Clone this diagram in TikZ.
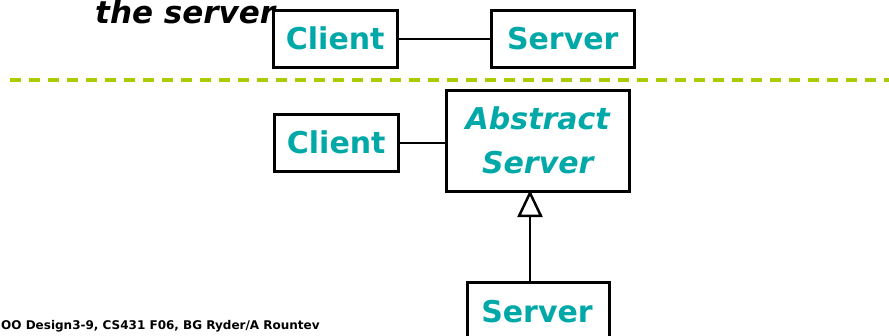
\documentclass[tikz,border=0pt]{standalone}
\usepackage{fontspec}
\setmainfont{DejaVu Sans}
\usetikzlibrary{arrows.meta}
\definecolor{teal1}{RGB}{0,168,168}
\definecolor{lime1}{RGB}{170,204,0}
\tikzset{
  cls/.style={draw=black, line width=2.5pt, fill=white, text=teal1, font=\fontsize{30}{34}\selectfont\bfseries, inner sep=0pt, anchor=north west},
  assoc/.style={draw=black, line width=1.6pt},
  inherit/.style={draw=black, line width=2.5pt, -{Triangle[open, width=25pt, length=27pt, line width=2.5pt]}},
}
\begin{document}
\begin{tikzpicture}[x=1pt,y=-1pt]
\useasboundingbox (0,0) rectangle (889,335);
% title fragment
\node[anchor=base west, inner sep=0pt, font=\fontsize{31}{32}\selectfont\bfseries\itshape] (title) at (95,23) {the server};
% top diagram
\node[cls, minimum width=124pt, minimum height=57pt] (c1) at (272,9) {Client};
\node[cls, minimum width=143pt, minimum height=57pt] (s1) at (490,9) {Server};
\draw[assoc] (c1.east) -- (s1.west);
% separator
\coordinate (dl) at (10,80);
\coordinate (dr) at (889,80);
\draw[lime1, line width=3.5pt, dash pattern=on 11pt off 8pt] (dl) -- (dr);
% bottom diagram
\node[cls, minimum width=124pt, minimum height=57pt] (c2) at (273,113) {Client};
\node[cls, minimum width=183pt, minimum height=101pt, align=center, font=\fontsize{30}{44}\selectfont\bfseries\itshape] (as) at (445,89) {Abstract\\Server};
\draw[assoc] (c2.east) -- (as.west |- c2.east);
\node[cls, minimum width=142pt, minimum height=60pt] (s2) at (466,281) {};
\node[text=teal1, font=\fontsize{30}{34}\selectfont\bfseries, anchor=base, inner sep=0pt] (s2t) at (537,322) {Server};
\coordinate (ap) at (530,190);
\draw[inherit] (s2.north -| ap) -- (ap);
% footer
\node[anchor=base west, inner sep=0pt, font=\fontsize{12}{13}\selectfont\bfseries] (foot) at (1,329) {OO Design3-9, CS431 F06, BG Ryder/A Rountev};
\end{tikzpicture}
\end{document}
